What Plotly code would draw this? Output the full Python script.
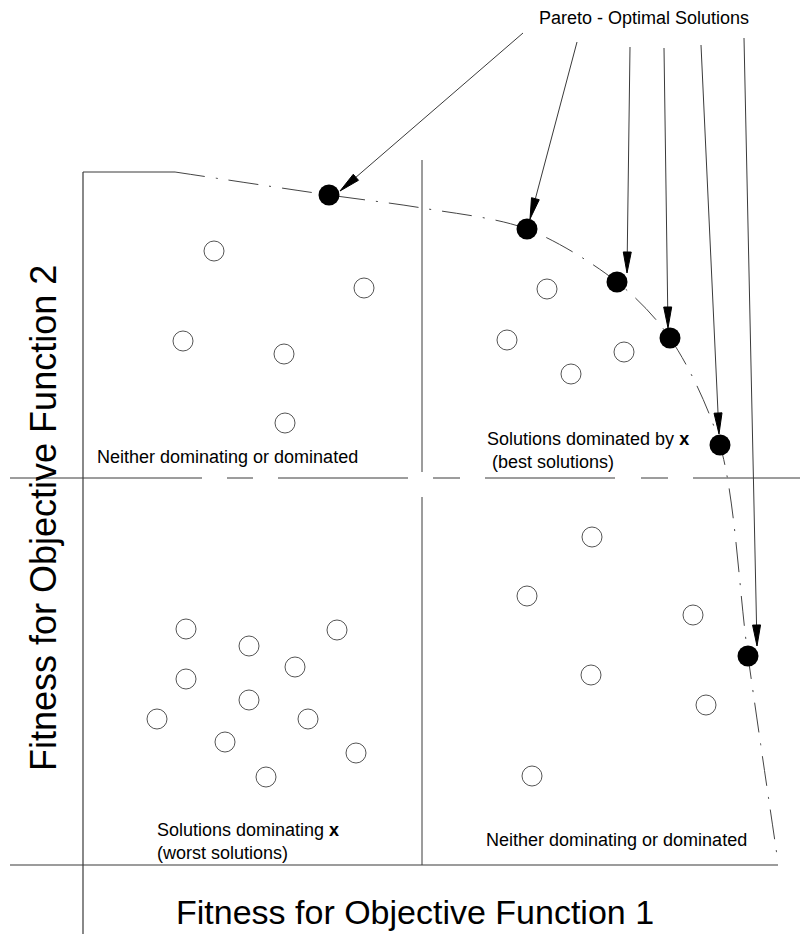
import math
import plotly.graph_objects as go

# ---------------- data (fitness units, origin at the axes crossing) ----------------
# dominated / non-optimal solutions (open circles)
open_f1 = [131, 281, 100, 201, 202,
           464, 424, 541, 488,
           103, 254, 166, 212, 103, 166, 74, 225, 142, 273, 183,
           509, 444, 610, 508, 623, 449]
open_f2 = [614, 577, 524, 511, 442,
           576, 525, 513, 491,
           236, 235, 219, 198, 186, 165, 146, 146, 123, 112, 88,
           328, 269, 250, 190, 160, 89]

# Pareto-optimal solutions (filled circles)
pareto_f1 = [246, 444, 534, 587, 637, 665]
pareto_f2 = [670, 636, 583, 527, 420, 209]

# Pareto front curve (dash-dot)
front_f1 = [92, 246, 339, 444, 534, 587, 637, 665, 695]
front_f2 = [693, 670, 657, 636, 583, 527, 420, 209, 3]

# arrows from the label to the Pareto points
arrow_start_f1 = [440, 494, 547, 581, 618, 661]
arrow_start_f2 = [832, 823, 818, 817, 820, 827]
arrow_tip_f1 = [257, 447, 544, 585, 636, 674]
arrow_tip_f2 = [674, 646, 592, 537, 431, 219]

# divider / axis positions
divider_f1 = 339
divider_f2 = 387
box_top_f2 = 693
box_top_end_f1 = 92

X_RANGE = [-83, 717]
Y_RANGE = [-69, 865]

FONT = "Liberation Sans, Arial, sans-serif"
LINE_COLOR = "#3a3a3a"

fig = go.Figure()

# axes
fig.add_trace(go.Scatter(x=[X_RANGE[0] + 10, front_f1[-1]], y=[0, 0], mode="lines",
                         line=dict(color=LINE_COLOR, width=1.2), hoverinfo="skip"))
fig.add_trace(go.Scatter(x=[0, 0], y=[Y_RANGE[0], box_top_f2], mode="lines",
                         line=dict(color=LINE_COLOR, width=1.2), hoverinfo="skip"))
fig.add_trace(go.Scatter(x=[0, box_top_end_f1], y=[box_top_f2, box_top_f2], mode="lines",
                         line=dict(color=LINE_COLOR, width=1), hoverinfo="skip"))

# dashed dividers
fig.add_trace(go.Scatter(x=[X_RANGE[0] + 10, X_RANGE[1]], y=[divider_f2, divider_f2], mode="lines",
                         line=dict(color=LINE_COLOR, width=1,
                                   dash="192px,25px,26px,25px,130px,25px,27px,25px,130px,26px,27px,25px,200px"),
                         hoverinfo="skip"))
fig.add_trace(go.Scatter(x=[divider_f1, divider_f1], y=[705, 0], mode="lines",
                         line=dict(color=LINE_COLOR, width=1, dash="312px,25px,400px"),
                         hoverinfo="skip"))

# Pareto front
fig.add_trace(go.Scatter(x=front_f1, y=front_f2, mode="lines",
                         line=dict(color="#444444", width=1, shape="spline", smoothing=0.9,
                                   dash="30px,11px,2px,11px"),
                         hoverinfo="skip"))

# open circles
fig.add_trace(go.Scatter(x=open_f1, y=open_f2, mode="markers",
                         marker=dict(size=20, color="white", line=dict(color="#555555", width=1)),
                         hoverinfo="skip"))

# filled Pareto circles
fig.add_trace(go.Scatter(x=pareto_f1, y=pareto_f2, mode="markers",
                         marker=dict(size=21, color="black", line=dict(color="black", width=0)),
                         hoverinfo="skip"))

# arrows: line + elongated filled head
HEAD_LEN = 21
HEAD_HALF = 4
shapes = []
for sx, sy, tx, ty in zip(arrow_start_f1, arrow_start_f2, arrow_tip_f1, arrow_tip_f2):
    dx, dy = sx - tx, sy - ty
    n = math.hypot(dx, dy)
    ux, uy = dx / n, dy / n
    bx, by = tx + HEAD_LEN * ux, ty + HEAD_LEN * uy
    px, py = -uy, ux
    shapes.append(dict(type="line", x0=sx, y0=sy, x1=bx, y1=by, xref="x", yref="y",
                       line=dict(color=LINE_COLOR, width=1)))
    path = (f"M {tx},{ty} L {bx + HEAD_HALF * px},{by + HEAD_HALF * py} "
            f"L {bx - HEAD_HALF * px},{by - HEAD_HALF * py} Z")
    shapes.append(dict(type="path", path=path, xref="x", yref="y",
                       fillcolor="black", line=dict(color="black", width=1)))

annotations = [
    dict(x=561, y=847, text="Pareto - Optimal Solutions", xanchor="center", yanchor="middle",
         font=dict(size=18)),
    dict(x=12, y=408, text="Neither dominating or dominated", xanchor="left", yanchor="middle",
         font=dict(size=18)),
    dict(x=402, y=414.5, text="Solutions dominated by <b>x</b><br> (best solutions)",
         xanchor="left", yanchor="middle", align="left", font=dict(size=18)),
    dict(x=72, y=23.5, text="Solutions dominating <b>x</b><br>(worst solutions)",
         xanchor="left", yanchor="middle", align="left", font=dict(size=18)),
    dict(x=401, y=25, text="Neither dominating or dominated", xanchor="left", yanchor="middle",
         font=dict(size=18)),
    dict(x=332, y=-47, text="Fitness for Objective Function 1", xanchor="center", yanchor="middle",
         font=dict(size=34)),
    dict(x=-40, y=347, text="Fitness for Objective Function 2", xanchor="center", yanchor="middle",
         textangle=-90, font=dict(size=36)),
]
for a in annotations:
    a.update(xref="x", yref="y", showarrow=False)
    a["font"].update(family=FONT, color="black")

fig.update_layout(
    width=800, height=934,
    margin=dict(l=0, r=0, t=0, b=0),
    paper_bgcolor="white", plot_bgcolor="white",
    showlegend=False,
    shapes=shapes,
    annotations=annotations,
    xaxis=dict(range=X_RANGE, visible=False, showgrid=False, zeroline=False, fixedrange=True),
    yaxis=dict(range=Y_RANGE, visible=False, showgrid=False, zeroline=False, fixedrange=True),
    font=dict(family=FONT),
)

fig.write_html("out.html", config={"displayModeBar": False},
               post_script="document.body.style.margin='0';document.body.style.overflow='hidden';")
